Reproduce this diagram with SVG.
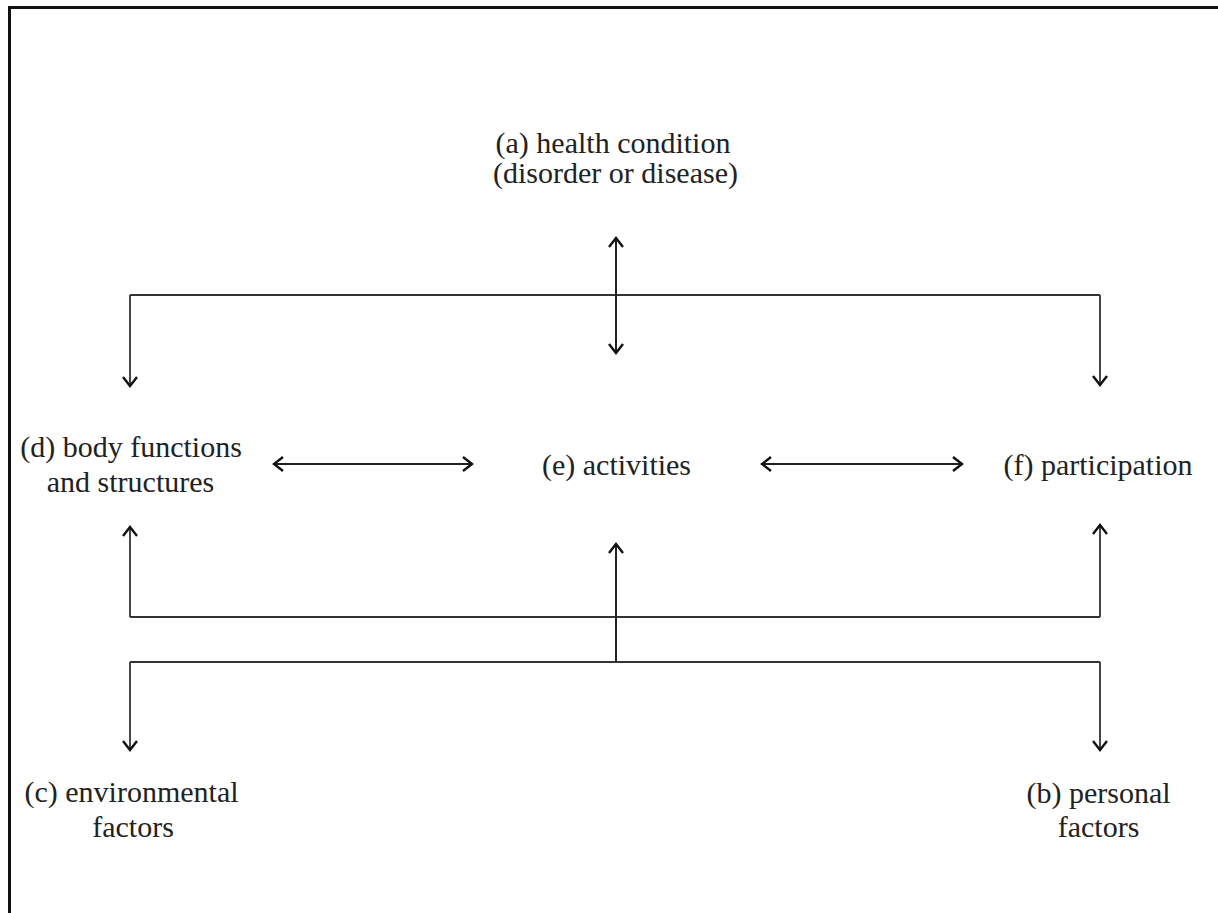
<svg xmlns="http://www.w3.org/2000/svg" width="1218" height="913" viewBox="0 0 1218 913">
<style>
.lbl{font-family:"Liberation Serif","Times New Roman",serif;font-size:30px;fill:#222;text-anchor:middle}
.ln{fill:none;stroke:#333;stroke-width:1.8}
.ar{fill:none;stroke:#222;stroke-width:2}
</style>
<defs>
<marker id="ah" markerUnits="userSpaceOnUse" markerWidth="20" markerHeight="20" viewBox="-11 -10 14 20" refX="0" refY="0" orient="auto-start-reverse">
<path d="M-9,-7 L0,0 L-9,7" fill="none" stroke="#111" stroke-width="2.4"/>
</marker>
</defs>
<rect width="1218" height="913" fill="#fff"/>
<path d="M9.5,913 V7.5 H1218" fill="none" stroke="#111" stroke-width="3"/>
<g id="connectors">
<path class="ln" d="M130,295 H1100"/>
<path class="ln" d="M130,295 V386" marker-end="url(#ah)"/>
<path class="ln" d="M1100,295 V385" marker-end="url(#ah)"/>
<path class="ar" d="M616,238 V353" marker-start="url(#ah)" marker-end="url(#ah)"/>
<path class="ar" d="M274,464 H472" marker-start="url(#ah)" marker-end="url(#ah)"/>
<path class="ar" d="M762,464 H962" marker-start="url(#ah)" marker-end="url(#ah)"/>
<path class="ln" d="M130,617 H1100"/>
<path class="ln" d="M130,617 V527" marker-end="url(#ah)"/>
<path class="ln" d="M1100,617 V525" marker-end="url(#ah)"/>
<path class="ar" d="M616,662 V544" marker-end="url(#ah)"/>
<path class="ln" d="M130,662 H1100"/>
<path class="ln" d="M130,662 V750" marker-end="url(#ah)"/>
<path class="ln" d="M1100,662 V750" marker-end="url(#ah)"/>
</g>
<g id="node-a">
<text class="lbl" x="613" y="153">(a) health condition</text>
<text class="lbl" x="615.5" y="183">(disorder or disease)</text>
</g>
<g id="node-d">
<text class="lbl" x="131" y="457">(d) body functions</text>
<text class="lbl" x="130.5" y="492">and structures</text>
</g>
<g id="node-e">
<text class="lbl" x="616.5" y="475">(e) activities</text>
</g>
<g id="node-f">
<text class="lbl" x="1098" y="475">(f) participation</text>
</g>
<g id="node-c">
<text class="lbl" x="131.5" y="802">(c) environmental</text>
<text class="lbl" x="133" y="837">factors</text>
</g>
<g id="node-b">
<text class="lbl" x="1098.5" y="803">(b) personal</text>
<text class="lbl" x="1098.5" y="837">factors</text>
</g>
</svg>
